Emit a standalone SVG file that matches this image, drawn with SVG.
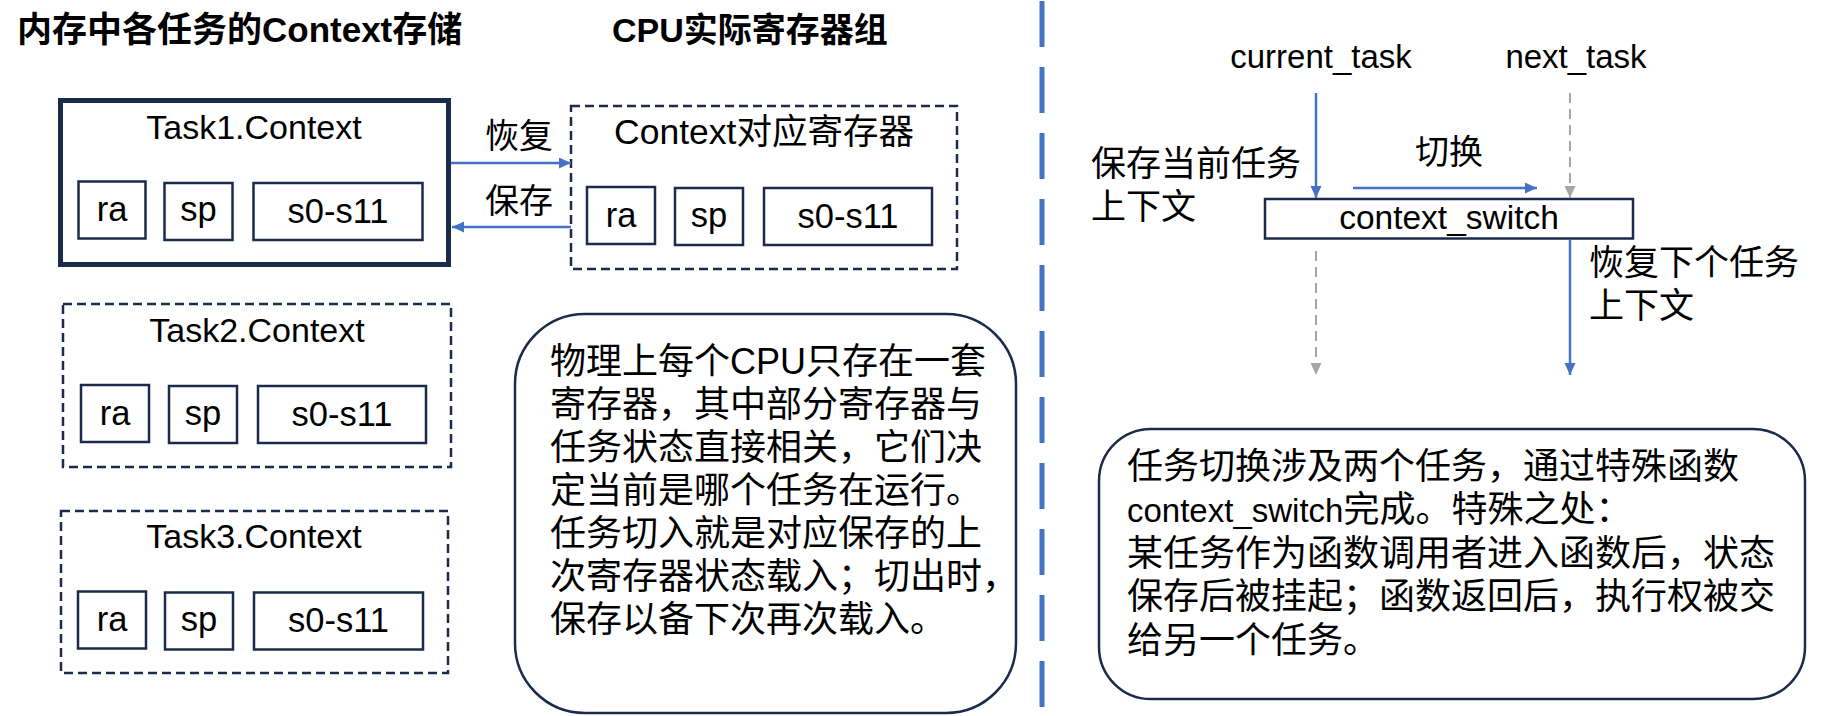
<svg xmlns="http://www.w3.org/2000/svg" width="1824" height="716" viewBox="0 0 1824 716">
<defs>
<style>
.t{font-family:"Liberation Sans","Noto Sans CJK SC",sans-serif;fill:#000}
.h{font-family:"Liberation Sans","Noto Sans CJK SC",sans-serif;font-weight:bold;font-size:34px;fill:#000}
.reg{fill:#fff;stroke:#1b2b4b;stroke-width:2.5}
.dbox{fill:none;stroke:#1b2b4b;stroke-width:2.5;stroke-dasharray:9 5}
.rt{font-size:34.5px;text-anchor:middle}
.ct{font-size:34px;text-anchor:middle}
.blue{stroke:#4472c4;stroke-width:2.5;fill:none}
.gray{stroke:#a6a6a6;stroke-width:2;fill:none;stroke-dasharray:10 6}
.note{fill:#fff;stroke:#1b2b4b;stroke-width:2.5}
.nt{font-size:36px}
</style>
<marker id="ab" markerUnits="userSpaceOnUse" markerWidth="13" markerHeight="12" refX="12" refY="5.5" orient="auto"><path d="M0,0 L12,5.5 L0,11 z" fill="#4472c4"/></marker>
<marker id="ag" markerUnits="userSpaceOnUse" markerWidth="13" markerHeight="12" refX="12" refY="5.5" orient="auto"><path d="M0,0 L12,5.5 L0,11 z" fill="#a6a6a6"/></marker>
</defs>
<rect width="1824" height="716" fill="#fff"/>

<text class="h" x="17" y="42" font-size="35" style="font-size:35px">内存中各任务的Context存储</text>
<text class="h" x="612" y="42">CPU实际寄存器组</text>

<g id="task1">
<rect x="60.5" y="100.5" width="388" height="164" fill="#fff" stroke="#1b2b4b" stroke-width="5"/>
<text class="t ct" x="254" y="139">Task1.Context</text>
<rect class="reg" x="78.5" y="181.5" width="67" height="57"/><text class="t rt" x="112" y="221">ra</text>
<rect class="reg" x="164.5" y="183" width="68" height="57"/><text class="t rt" x="198.5" y="221">sp</text>
<rect class="reg" x="253.5" y="183" width="169" height="57"/><text class="t rt" x="338" y="223">s0-s11</text>
</g>

<g id="cpu">
<rect class="dbox" x="571" y="106" width="386" height="163"/>
<text class="t" x="764" y="144" font-size="35.5" text-anchor="middle">Context对应寄存器</text>
<rect class="reg" x="587" y="187" width="68" height="57"/><text class="t rt" x="621" y="227">ra</text>
<rect class="reg" x="675" y="188" width="68" height="57"/><text class="t rt" x="709" y="227">sp</text>
<rect class="reg" x="764" y="188" width="168" height="57"/><text class="t rt" x="848" y="228">s0-s11</text>
</g>

<g id="task2">
<rect class="dbox" x="63" y="304" width="388" height="163"/>
<text class="t ct" x="257" y="342">Task2.Context</text>
<rect class="reg" x="81" y="385" width="68" height="57"/><text class="t rt" x="115" y="425">ra</text>
<rect class="reg" x="169" y="386" width="68" height="57"/><text class="t rt" x="203" y="425">sp</text>
<rect class="reg" x="258" y="386" width="168" height="57"/><text class="t rt" x="342" y="426">s0-s11</text>
</g>

<g id="task3">
<rect class="dbox" x="61" y="511" width="387" height="162"/>
<text class="t ct" x="254" y="548">Task3.Context</text>
<rect class="reg" x="78" y="591.5" width="68" height="57"/><text class="t rt" x="112" y="631">ra</text>
<rect class="reg" x="165" y="592.5" width="68" height="57"/><text class="t rt" x="199" y="631">sp</text>
<rect class="reg" x="254" y="592.5" width="169" height="57"/><text class="t rt" x="338.5" y="632">s0-s11</text>
</g>

<g id="note1">
<rect class="note" x="515" y="314" width="501" height="399" rx="70"/>
<text class="t nt" x="550" y="374">物理上每个CPU只存在一套</text>
<text class="t nt" x="550" y="417">寄存器，其中部分寄存器与</text>
<text class="t nt" x="550" y="460">任务状态直接相关，它们决</text>
<text class="t nt" x="550" y="503">定当前是哪个任务在运行。</text>
<text class="t nt" x="550" y="546">任务切入就是对应保存的上</text>
<text class="t nt" x="550" y="589">次寄存器状态载入；切出时，</text>
<text class="t nt" x="550" y="632">保存以备下次再次载入。</text>
</g>

<line x1="1042" y1="1" x2="1042" y2="716" stroke="#4472c4" stroke-width="5" stroke-dasharray="46 20"/>

<g id="current_task"><text class="t" x="1321" y="68" font-size="33" text-anchor="middle">current_task</text></g>
<g id="next_task"><text class="t" x="1576" y="68" font-size="33" text-anchor="middle">next_task</text></g>

<g id="context_switch">
<rect x="1265" y="199" width="368" height="39.5" fill="#fff" stroke="#1b2b4b" stroke-width="2.5"/>
<text class="t" x="1449" y="229" font-size="33.5" text-anchor="middle">context_switch</text>
</g>

<g id="labels">
<text class="t" x="485" y="148" font-size="34">恢复</text>
<text class="t" x="485" y="213" font-size="34">保存</text>
<text class="t" x="1415" y="164" font-size="34">切换</text>
<text class="t" x="1091" y="176" font-size="35">保存当前任务</text>
<text class="t" x="1091" y="219" font-size="35">上下文</text>
<text class="t" x="1589" y="275" font-size="35">恢复下个任务</text>
<text class="t" x="1589" y="318" font-size="35">上下文</text>
</g>

<g id="connectors">
<line class="blue" x1="451" y1="163" x2="571" y2="163" marker-end="url(#ab)"/>
<line class="blue" x1="571" y1="227" x2="452" y2="227" marker-end="url(#ab)"/>
<line class="blue" x1="1316" y1="93" x2="1316" y2="198" marker-end="url(#ab)"/>
<line class="gray" x1="1570" y1="93" x2="1570" y2="198" marker-end="url(#ag)"/>
<line class="blue" x1="1353" y1="188" x2="1537" y2="188" stroke-width="3.5" marker-end="url(#ab)"/>
<line class="gray" x1="1316" y1="251" x2="1316" y2="375" marker-end="url(#ag)"/>
<line class="blue" x1="1570" y1="240" x2="1570" y2="375" marker-end="url(#ab)"/>
</g>

<g id="note2">
<rect class="note" x="1099" y="429" width="706" height="270" rx="52"/>
<text class="t nt" x="1127" y="479">任务切换涉及两个任务，通过特殊函数</text>
<text class="t nt" x="1127" y="522"><tspan font-size="33">context_switch</tspan>完成。特殊之处：</text>
<text class="t nt" x="1127" y="566">某任务作为函数调用者进入函数后，状态</text>
<text class="t nt" x="1127" y="609">保存后被挂起；函数返回后，执行权被交</text>
<text class="t nt" x="1127" y="653">给另一个任务。</text>
</g>
</svg>
